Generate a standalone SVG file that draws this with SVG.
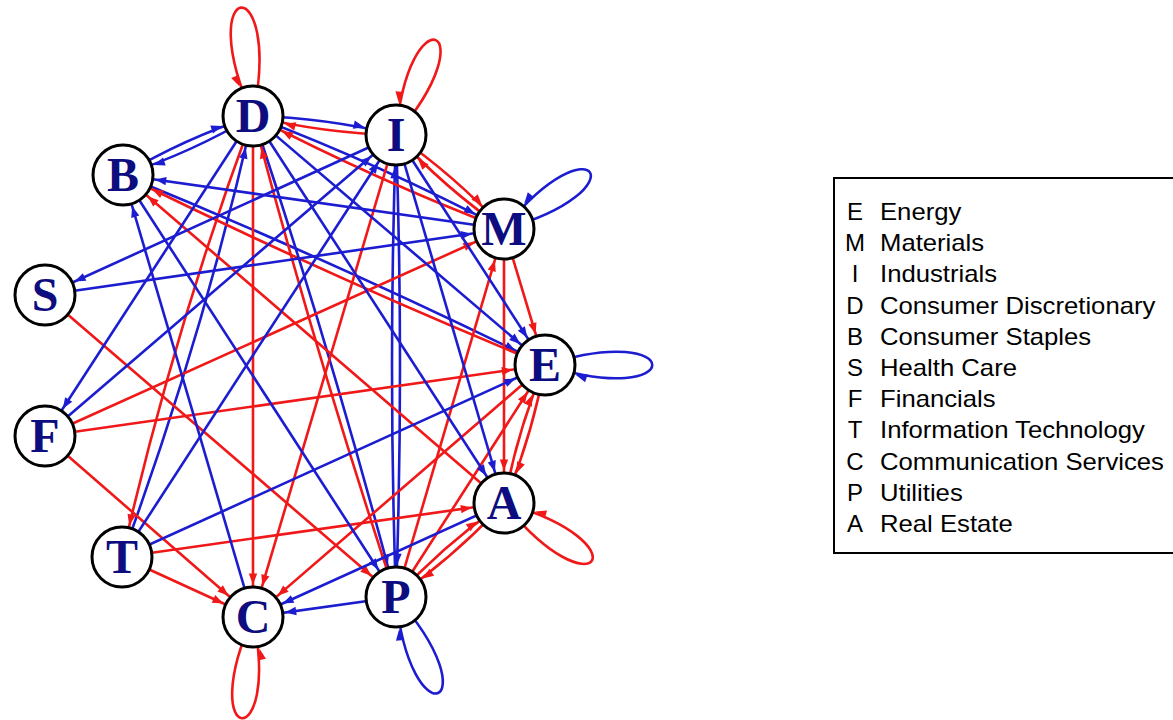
<svg xmlns="http://www.w3.org/2000/svg" width="1173" height="720" viewBox="0 0 1173 720">
  <style>
    .r { fill: none; stroke: #f01818; stroke-width: 2.6; marker-end: url(#ah-r); }
    .b { fill: none; stroke: #1c1cd0; stroke-width: 2.6; marker-end: url(#ah-b); }
    .node circle { fill: #ffffff; stroke: #000000; stroke-width: 3; }
    .node text { font-family: "Liberation Serif", "Times New Roman", serif; font-size: 48px; font-weight: bold; fill: #0d0d80; text-anchor: middle; }
    .legend text { font-family: "Liberation Sans", Arial, sans-serif; font-size: 24px; fill: #000000; }
  </style>
  <defs>
    <!-- arrowheads sit on the rim of the 30px node circles (tip 32.5 back from the centre) -->
    <marker id="ah-r" markerUnits="userSpaceOnUse" orient="auto" refX="32.5" refY="0" markerWidth="1" markerHeight="1" style="overflow:visible">
      <path d="M0,0 L-11,-4.2 L-11,4.2 Z" fill="#f01818"/>
    </marker>
    <marker id="ah-b" markerUnits="userSpaceOnUse" orient="auto" refX="32.5" refY="0" markerWidth="1" markerHeight="1" style="overflow:visible">
      <path d="M0,0 L-11,-4.2 L-11,4.2 Z" fill="#1c1cd0"/>
    </marker>
  </defs>

  <g id="connectors">
    <!-- self loops -->
    <path class="r" d="M253,116 C284,-34 190,-23 253,116"/>
    <path class="r" d="M396,135 C490,26 408,-9 396,135"/>
    <path class="b" d="M504,229 C643,191 594,116 504,229"/>
    <path class="b" d="M545,365 C688,319 688,411 545,365"/>
    <path class="r" d="M504,503 C596,618 646,542 504,503"/>
    <path class="b" d="M396,597 C494,707 410,743 396,597"/>
    <path class="r" d="M253,617 C194,747 282,757 253,617"/>

    <!-- reciprocal pairs, bent slightly apart -->
    <path class="b" d="M123,175 Q184.7,138.2 253,116"/>
    <path class="b" d="M253,116 Q191.3,152.8 123,175"/>
    <path class="b" d="M253,116 Q325.6,117.6 396,135"/>
    <path class="r" d="M396,135 Q323.4,133.4 253,116"/>
    <path class="r" d="M396,135 Q455.3,176 504,229"/>
    <path class="r" d="M504,229 Q444.7,188 396,135"/>
    <path class="r" d="M253,116 Q173.1,332.2 122,557"/>
    <path class="b" d="M122,557 Q201.9,340.8 253,116"/>
    <path class="b" d="M396,135 Q404,366 396,597"/>
    <path class="b" d="M396,597 Q388,366 396,135"/>
    <path class="r" d="M504,503 Q455.3,556 396,597"/>
    <path class="r" d="M396,597 Q444.7,544 504,503"/>
    <path class="r" d="M545,365 Q532.2,436.3 504,503"/>
    <path class="r" d="M504,503 Q516.8,431.7 545,365"/>
    <path class="b" d="M123,175 Q337.3,262.7 545,365"/>
    <path class="r" d="M545,365 Q330.7,277.3 123,175"/>
    <path class="b" d="M253,116 Q332.2,354.2 396,597"/>
    <path class="r" d="M396,597 Q316.8,358.8 253,116"/>
    <path class="b" d="M253,116 Q381.8,165.2 504,229"/>
    <path class="r" d="M504,229 Q375.2,179.8 253,116"/>

    <!-- single red edges -->
    <path class="r" d="M253,116 L253,617"/>
    <path class="r" d="M396,135 L253,617"/>
    <path class="r" d="M504,503 L123,175"/>
    <path class="r" d="M45,295 L396,597"/>
    <path class="r" d="M45,436 L504,229"/>
    <path class="r" d="M45,436 L545,365"/>
    <path class="r" d="M45,436 L253,617"/>
    <path class="r" d="M122,557 L253,617"/>
    <path class="r" d="M122,557 L504,503"/>
    <path class="r" d="M504,229 L504,503"/>
    <path class="r" d="M504,229 L545,365"/>
    <path class="r" d="M396,597 L504,229"/>
    <path class="r" d="M545,365 L253,617"/>
    <path class="r" d="M396,597 L545,365"/>

    <!-- single blue edges -->
    <path class="b" d="M396,135 L45,295"/>
    <path class="b" d="M45,295 L504,229"/>
    <path class="b" d="M253,116 L45,436"/>
    <path class="b" d="M45,436 L396,135"/>
    <path class="b" d="M122,557 L396,135"/>
    <path class="b" d="M122,557 L545,365"/>
    <path class="b" d="M253,617 L123,175"/>
    <path class="b" d="M123,175 L396,597"/>
    <path class="b" d="M396,597 L253,617"/>
    <path class="b" d="M504,503 L253,617"/>
    <path class="b" d="M253,116 L504,503"/>
    <path class="b" d="M396,135 L504,503"/>
    <path class="b" d="M253,116 L545,365"/>
    <path class="b" d="M504,229 L123,175"/>
    <path class="b" d="M396,135 L545,365"/>
  </g>

  <g id="node-D" class="node"><circle cx="253" cy="116" r="30"/><text x="253" y="132">D</text></g>
  <g id="node-I" class="node"><circle cx="396" cy="135" r="30"/><text x="396" y="151">I</text></g>
  <g id="node-B" class="node"><circle cx="123" cy="175" r="30"/><text x="123" y="191">B</text></g>
  <g id="node-M" class="node"><circle cx="504" cy="229" r="30"/><text x="504" y="245">M</text></g>
  <g id="node-S" class="node"><circle cx="45" cy="295" r="30"/><text x="45" y="311">S</text></g>
  <g id="node-E" class="node"><circle cx="545" cy="365" r="30"/><text x="545" y="381">E</text></g>
  <g id="node-F" class="node"><circle cx="45" cy="436" r="30"/><text x="45" y="452">F</text></g>
  <g id="node-A" class="node"><circle cx="504" cy="503" r="30"/><text x="504" y="519">A</text></g>
  <g id="node-T" class="node"><circle cx="122" cy="557" r="30"/><text x="122" y="573">T</text></g>
  <g id="node-P" class="node"><circle cx="396" cy="597" r="30"/><text x="396" y="613">P</text></g>
  <g id="node-C" class="node"><circle cx="253" cy="617" r="30"/><text x="253" y="633">C</text></g>

  <g id="legend" class="legend">
    <rect x="834" y="178" width="360" height="375" fill="#ffffff" stroke="#000000" stroke-width="2"/>
    <g text-anchor="middle">
      <text x="855" y="220">E</text>
      <text x="855" y="251">M</text>
      <text x="855" y="282">I</text>
      <text x="855" y="314">D</text>
      <text x="855" y="345">B</text>
      <text x="855" y="376">S</text>
      <text x="855" y="407">F</text>
      <text x="855" y="438">T</text>
      <text x="855" y="470">C</text>
      <text x="855" y="501">P</text>
      <text x="855" y="532">A</text>
    </g>
    <g transform="translate(880,0) scale(1.07,1)">
      <text x="0" y="220">Energy</text>
      <text x="0" y="251">Materials</text>
      <text x="0" y="282">Industrials</text>
      <text x="0" y="314">Consumer Discretionary</text>
      <text x="0" y="345">Consumer Staples</text>
      <text x="0" y="376">Health Care</text>
      <text x="0" y="407">Financials</text>
      <text x="0" y="438">Information Technology</text>
      <text x="0" y="470">Communication Services</text>
      <text x="0" y="501">Utilities</text>
      <text x="0" y="532">Real Estate</text>
    </g>
  </g>
</svg>
